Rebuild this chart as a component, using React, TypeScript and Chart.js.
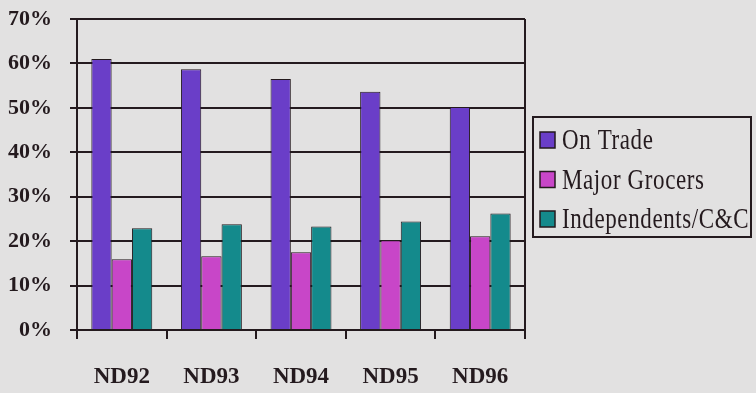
import { useEffect, useRef } from "react";
import { Chart, registerables } from "chart.js";

Chart.register(...registerables);

// Market share by channel, ND92–ND96 (percent)
const categories = ["ND92", "ND93", "ND94", "ND95", "ND96"];
const seriesNames = ["On Trade", "Major Grocers", "Independents/C&C"];
const onTrade = [61.0, 58.7, 56.5, 53.6, 50.2];
const majorGrocers = [15.9, 16.6, 17.5, 20.2, 21.1];
const independents = [22.9, 23.8, 23.3, 24.4, 26.2];
const yTickValues = [0, 10, 20, 30, 40, 50, 60, 70];

const INK = "#241a1e";
const PAPER = "#e2e1e1";
const seriesColors = ["#6a3ec8", "#c846c8", "#148a8c"];
const SERIF = '"Liberation Serif", "Times New Roman", serif';

const paperBackground = {
  id: "paperBackground",
  beforeDraw(chart: any) {
    const { ctx, width, height } = chart;
    ctx.save();
    ctx.fillStyle = PAPER;
    ctx.fillRect(0, 0, width, height);
    ctx.restore();
  },
};

// Right-hand frame line plus a boxed legend to the right of the plot
const frameAndLegend = {
  id: "frameAndLegend",
  afterDraw(chart: any) {
    const { ctx, chartArea } = chart;
    ctx.save();
    ctx.strokeStyle = INK;
    ctx.lineWidth = 2;
    ctx.beginPath();
    ctx.moveTo(chartArea.right, chartArea.top);
    ctx.lineTo(chartArea.right, chartArea.bottom);
    ctx.stroke();

    const x0 = chartArea.right + 8;
    const y0 = 117;
    const w = 218;
    const h = 120;
    ctx.strokeRect(x0, y0, w, h);

    ctx.textBaseline = "alphabetic";
    ctx.textAlign = "left";
    chart.data.datasets.forEach((ds: any, i: number) => {
      const base = y0 + 32 + i * 39.5;
      ctx.fillStyle = ds.backgroundColor;
      ctx.fillRect(x0 + 7, base - 17, 15, 16);
      ctx.lineWidth = 1.5;
      ctx.strokeRect(x0 + 7, base - 17, 15, 16);
      // tall, narrow lettering
      ctx.save();
      ctx.translate(x0 + 29, base);
      ctx.scale(1, 1.3);
      ctx.font = `23px ${SERIF}`;
      (ctx as any).letterSpacing = "0.6px";
      ctx.fillStyle = INK;
      ctx.fillText(ds.label, 0, 0);
      ctx.restore();
    });
    ctx.restore();
  },
};

export default function App() {
  const canvasRef = useRef<HTMLCanvasElement | null>(null);

  useEffect(() => {
    if (!canvasRef.current) return;
    const series = [onTrade, majorGrocers, independents];
    const chart = new Chart(canvasRef.current, {
      type: "bar",
      data: {
        labels: categories,
        datasets: series.map((values, i) => ({
          label: seriesNames[i],
          data: values,
          backgroundColor: seriesColors[i],
          borderColor: INK,
          borderWidth: 1,
          categoryPercentage: 0.68,
          barPercentage: 1,
        })),
      },
      options: {
        responsive: false,
        animation: false,
        layout: { padding: { left: 0, right: 231, top: 19, bottom: 0 } },
        plugins: {
          legend: { display: false },
          tooltip: { enabled: false },
        },
        scales: {
          x: {
            afterFit: (scale: any) => {
              scale.height = 63;
            },
            grid: {
              offset: true,
              drawOnChartArea: false,
              drawTicks: true,
              tickLength: 9,
              color: INK,
              lineWidth: 2,
            },
            border: { display: true, color: INK, width: 2 },
            ticks: {
              color: INK,
              padding: 24,
              font: { family: SERIF, size: 23, weight: "bold" },
            },
          },
          y: {
            min: 0,
            max: 70,
            afterFit: (scale: any) => {
              scale.width = 77;
              scale.paddingTop = 0;
              scale.paddingBottom = 0;
            },
            afterBuildTicks: (scale: any) => {
              scale.ticks = yTickValues.map((v) => ({ value: v }));
            },
            grid: {
              color: INK,
              lineWidth: 2,
              tickLength: 7,
            },
            border: { display: true, color: INK, width: 2 },
            ticks: {
              color: INK,
              padding: 18,
              font: { family: SERIF, size: 22, weight: "bold" },
              callback: (v: any) => `${v}%`,
            },
          },
        },
      },
      plugins: [paperBackground, frameAndLegend],
    });
    return () => chart.destroy();
  }, []);

  return (
    <div style={{ position: "fixed", left: 0, top: 0, width: 756, height: 393 }}>
      <canvas ref={canvasRef} width={756} height={393} />
    </div>
  );
}
